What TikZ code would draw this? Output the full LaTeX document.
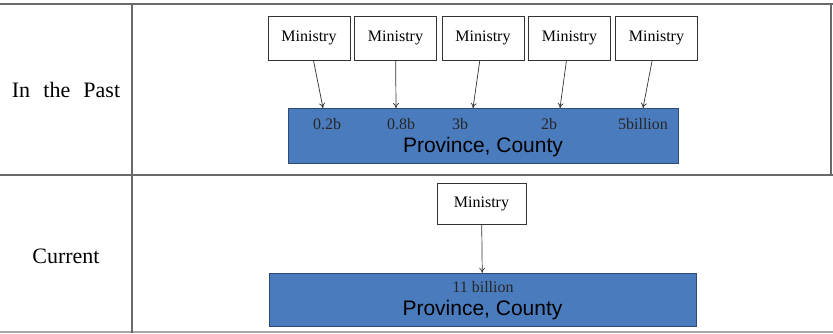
\documentclass[tikz,border=0pt]{standalone}
\usepackage{fontspec}
\setmainfont{Liberation Serif}
\setsansfont{Liberation Sans}
\usetikzlibrary{arrows.meta}
\definecolor{boxblue}{HTML}{4A7BBD}
\definecolor{boxedge}{HTML}{2E4A78}
\definecolor{rulegray}{HTML}{6A6A6A}
\tikzset{
	ministry/.style={draw=black!80, fill=white, minimum width=82pt, minimum height=44pt, inner sep=0pt, font=\fontsize{16}{16}\selectfont},
	region/.style={draw=boxedge, fill=boxblue, inner sep=0pt},
	amount/.style={font=\fontsize{16}{16}\selectfont, text=black!85, inner sep=0pt},
	place/.style={font=\sffamily\fontsize{21}{21}\selectfont, inner sep=0pt},
	rowlabel/.style={font=\fontsize{22}{22}\selectfont},
	flow/.style={-{To[length=5pt, width=6pt]}, black!80, line width=0.7pt}
}
\begin{document}
\begin{tikzpicture}[x=1pt, y=-1pt]
	\useasboundingbox (0,0) rectangle (833,333);
	% table rules
	\draw[rulegray, line width=2.5pt] (0,4) -- (833,4);
	\draw[rulegray, line width=1.2pt] (0,175) -- (833,175);
	\draw[rulegray!60, line width=1.2pt] (0,332) -- (833,332);
	\draw[rulegray, line width=1.2pt] (132,4) -- (132,333);
	\draw[rulegray, line width=1.2pt] (831,4) -- (831,175);
	\node[rowlabel] (past) at (66,90) {In\hspace{0.6em}the\hspace{0.6em}Past};
	\node[rowlabel] (now) at (66,256) {Current};
	
	% in the past
	\node[region, minimum width=390pt, minimum height=55pt] (P) at (483,135.5) {};
	\node[place] (Pname) at (483,147) {Province, County};
	\foreach \i/\mx/\tx/\val/\vx in {1/309/323/0.2b/327, 2/395.5/396/0.8b/401, 3/483/473/3b/460, 4/569.5/560/2b/549, 5/656.5/643/5billion/643}
	{
		\node[ministry] (m\i) at (\mx,38) {Ministry};
		\coordinate (t\i) at (\tx,108);
		\node[amount] (v\i) at (\vx,124) {\val};
		\draw[flow] (m\i) -- (t\i);
	}
	
	% current
	\node[ministry, minimum width=89pt, minimum height=41pt] (M) at (481.5,203.5) {Ministry};
	\node[region, minimum width=427pt, minimum height=53pt] (C) at (482.5,299.5) {};
	\node[amount] (Cval) at (483,287) {11 billion};
	\node[place] (Cname) at (482.5,310) {Province, County};
	\draw[flow] (M) -- (C);
\end{tikzpicture}
\end{document}
